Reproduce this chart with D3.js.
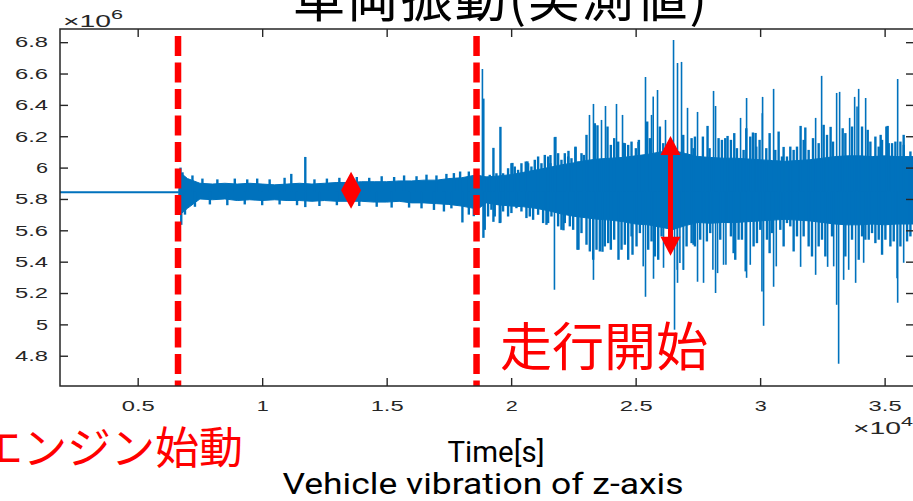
<!DOCTYPE html>
<html>
<head>
<meta charset="utf-8">
<script src="https://cdn.jsdelivr.net/npm/d3@7"></script>
<style>
  body { margin: 0; background: #fff; overflow: hidden; }
</style>
</head>
<body>
<div id="chart"></div>
<script>
// ---- data (time in s, acceleration in 10^6 units) ----
const preT = [1880, 3000, 4000, 5000, 6000, 6650];
const preV = [5.842, 5.842, 5.843, 5.843, 5.842, 5.842];

// dense part of the signal (upper / lower edge)
const coreT = [6650, 6700, 7000, 7500, 8000, 8500, 9000, 9500, 10000, 10500, 11000, 11500, 12000, 12500,
  13000, 13500, 14000, 14500, 15000, 15500, 16000, 16500, 17000, 17500, 18000, 18500, 18700, 19000,
  19500, 20000, 20500, 21000, 21500, 22000, 22500, 23000, 23500, 24000, 24500, 25000, 25500, 26000,
  26500, 27000, 27500, 28000, 28500, 29000, 29500, 30000, 30500, 31000, 31500, 32000, 32500, 33000,
  33500, 34000, 34500, 35000, 35500, 36000, 36200];
const coreHi = [5.85, 5.97, 5.93, 5.90, 5.895, 5.90, 5.895, 5.90, 5.895, 5.89, 5.895, 5.90, 5.895, 5.90,
  5.905, 5.905, 5.91, 5.91, 5.91, 5.915, 5.915, 5.92, 5.92, 5.93, 5.935, 5.95, 5.95, 5.94,
  5.947, 5.955, 5.97, 5.985, 6.00, 6.017, 6.03, 6.045, 6.055, 6.06, 6.065, 6.075, 6.085, 6.10,
  6.11, 6.09, 6.07, 6.065, 6.06, 6.06, 6.055, 6.05, 6.045, 6.04, 6.045, 6.05, 6.06, 6.07,
  6.075, 6.075, 6.07, 6.075, 6.07, 6.07, 6.07];
const coreLo = [5.835, 5.70, 5.74, 5.80, 5.795, 5.80, 5.79, 5.795, 5.79, 5.795, 5.79, 5.79, 5.785, 5.79,
  5.785, 5.785, 5.785, 5.78, 5.78, 5.785, 5.775, 5.775, 5.77, 5.765, 5.755, 5.74, 5.74, 5.775,
  5.762, 5.755, 5.75, 5.74, 5.725, 5.705, 5.69, 5.68, 5.67, 5.665, 5.655, 5.64, 5.635, 5.62,
  5.605, 5.63, 5.65, 5.645, 5.65, 5.65, 5.655, 5.66, 5.665, 5.67, 5.665, 5.66, 5.65, 5.64,
  5.635, 5.635, 5.64, 5.635, 5.64, 5.64, 5.64];

// single excursions above the dense part
const spikeUpT = [
  6720, 6800, 7200, 7600, 8200, 8900, 9400, 9800, 10300, 10900, 11169, 11732, 12100, 12600, 13100,
  13800, 14300, 14800, 15300, 15700, 16200, 16600, 17000, 17400, 17700, 17950, 18300,
  18846, 18900, 19288, 19569, 20051, 20654, 21578, 21779, 22302, 22583, 23146, 23306, 23467, 23789,
  24231, 24512, 25115, 25396, 25638, 25879, 26200, 26522, 26682, 26843, 27084, 27486, 27888, 28129,
  28210, 28692, 29214, 29456, 29817, 30099, 30541, 30943, 31626, 32229, 32470, 32831, 33073, 33193,
  33595, 33796, 33957, 34238, 34841, 35122, 35524, 35765,
  19006, 19140, 19408, 19676, 19877, 20011, 20145, 20279, 20413, 20587, 20681, 20815, 20949, 21083,
  21217, 21351, 21485, 21579, 21753, 21887, 22021, 22155, 22289, 22423, 22584, 22691, 22825, 22919,
  23026, 23361, 23629, 23870, 24004, 24138, 24299, 24473, 24567, 24701, 24835, 25009, 25130, 25264,
  25465, 25572, 25706, 25974, 26108, 26912, 27247, 27381,
  27326, 27594, 27701, 27969, 28331, 28465, 28599, 28827, 28961, 29068, 29336, 29443, 29604, 29711,
  29845, 29979, 30086, 30247, 30381, 30609, 30743, 30877, 31078, 31212, 31346, 31480, 31748, 31815,
  31949, 32123, 32351, 32552, 32686, 32927, 33316, 33423, 33691, 33892, 34093, 34321, 34428, 34629,
  34763, 34897, 35071, 35165, 35299, 35433, 35634, 35768, 35902, 36036];
const spikeUpV = [
  6.00, 5.97, 5.95, 5.93, 5.925, 5.93, 5.925, 5.93, 5.925, 5.935, 5.96, 6.068, 5.925, 5.93, 5.935,
  5.94, 5.935, 5.945, 5.94, 5.95, 5.945, 5.955, 5.95, 5.96, 5.965, 5.975, 5.975,
  6.629, 6.44, 6.126, 6.26, 6.03, 6.04, 6.08, 6.196, 6.107, 6.13, 6.336, 6.406, 6.27, 6.393,
  6.406, 6.158, 6.164, 6.578, 6.336, 6.495, 6.304, 6.814, 6.667, 6.674, 6.381, 6.355, 6.266, 6.489,
  6.393, 6.202, 6.317, 6.444, 6.221, 6.451, 6.502, 6.132, 6.266, 6.317, 6.585, 6.26, 6.476, 6.483,
  6.317, 6.451, 6.502, 6.444, 6.209, 6.266, 6.565, 6.209,
  5.943, 5.954, 5.964, 5.964, 5.996, 6.028, 6.007, 5.986, 6.028, 6.039, 6.028, 6.007, 6.05, 6.071,
  6.028, 6.081, 6.071, 6.028, 6.194, 6.092, 6.05, 6.092, 6.071, 6.06, 6.134, 6.039, 6.092, 6.081,
  6.209, 6.283, 6.304, 6.262, 6.145, 6.188, 6.166, 6.336, 6.156, 6.145, 6.166, 6.124, 6.177, 6.05,
  6.294, 6.188, 6.453, 6.262, 6.156, 6.209, 6.188, 6.198,
  6.124, 6.071, 6.198, 6.124, 6.188, 6.177, 6.188, 6.177, 6.22, 6.124, 6.113, 6.251, 6.198, 6.224,
  6.134, 6.177, 6.347, 6.124, 6.22, 6.113, 6.23, 6.071, 6.071, 6.134, 6.113, 6.134, 6.177, 6.256,
  6.113, 6.188, 6.156, 6.273, 6.209, 6.166, 6.251, 6.22, 6.262, 6.39, 6.262, 6.241, 6.166, 6.198,
  6.134, 6.177, 6.262, 6.156, 6.156, 6.166, 6.166, 6.145, 6.071, 6.103];

// single excursions below the dense part
const spikeDownT = [
  6750, 6900, 7300, 7900, 8600, 9300, 10000, 10700, 11400, 11732, 12300, 13000, 13900, 14600, 15200,
  15900, 16400, 16900, 17300, 17600, 18042, 18300, 18500,
  18886, 19288, 19569, 21739, 22101, 22704, 23306, 23668, 24311, 24874, 25396, 25718,
  26120, 26562, 26682, 26924, 27486, 27727, 28210, 28531, 29456, 30139, 30541, 31626, 32229, 32711,
  33073, 33153, 33354, 33836, 34158, 35524, 35765,
  18939, 19073, 19207, 19341, 19542, 19676, 19877, 20011, 20212, 20413, 20614, 20748, 20882, 21083,
  21284, 21418, 21485, 21619, 21887, 22021, 22155, 22356, 22490, 22664, 22825, 23026, 23160, 23294,
  23428, 23562, 23763, 23897, 24004, 24138, 24433, 24567, 24701, 24835, 25036, 25170, 25304, 25505,
  25639, 25773, 25907, 26041, 26671, 26778, 26912, 27046, 27247, 27381,
  27326, 27594, 27862, 27996, 28103, 28291, 28398, 28626, 28733, 28827, 28934, 29001, 29135, 29269,
  29403, 29604, 29738, 29872, 30006, 30073, 30274, 30381, 30475, 30649, 30810, 30944, 31078, 31212,
  31346, 31480, 31748, 31949, 32083, 32351, 32485, 32619, 32887, 32954, 33423, 33557, 33691, 33959,
  34093, 34227, 34361, 34495, 34629, 34763, 34897, 35031, 35232, 35366, 35500, 35634, 35902, 36036];
const spikeDownV = [
  5.635, 5.70, 5.75, 5.765, 5.76, 5.765, 5.76, 5.765, 5.76, 5.748, 5.755, 5.76, 5.755, 5.75, 5.745,
  5.745, 5.74, 5.73, 5.72, 5.74, 5.65, 5.70, 5.69,
  5.552, 5.654, 5.648, 5.221, 5.60, 5.476, 5.284, 5.463, 5.412, 5.444, 5.176, 5.291,
  5.361, 4.966, 5.265, 5.348, 5.272, 5.265, 5.20, 5.38, 5.297, 4.991, 5.24, 5.367, 5.316, 5.367,
  5.125, 4.749, 5.284, 5.265, 5.393, 5.138, 5.393,
  5.603, 5.688, 5.731, 5.688, 5.646, 5.72, 5.688, 5.71, 5.741, 5.72, 5.678, 5.688, 5.667, 5.699,
  5.646, 5.635, 5.646, 5.688, 5.625, 5.603, 5.646, 5.625, 5.603, 5.476, 5.582, 5.508, 5.465, 5.412,
  5.476, 5.465, 5.497, 5.518, 5.476, 5.54, 5.476, 5.508, 5.412, 5.561, 5.497, 5.582, 5.37, 5.476,
  5.529, 5.433, 5.412, 5.561, 5.348, 5.391, 5.348, 5.497, 5.518, 5.497,
  5.508, 5.54, 5.529, 5.582, 5.348, 5.327, 5.54, 5.38, 5.646, 5.561, 5.454, 5.412, 5.54, 5.54,
  5.338, 5.38, 5.497, 5.518, 5.603, 5.21, 5.54, 5.454, 5.582, 5.37, 5.603, 5.497, 5.646, 5.625,
  5.465, 5.561, 5.561, 5.497, 5.433, 5.497, 5.54, 5.433, 5.561, 5.37, 5.433, 5.348, 5.54, 5.412,
  5.561, 5.54, 5.54, 5.582, 5.518, 5.54, 5.444, 5.54, 5.497, 5.529, 5.295, 5.497, 5.529, 5.561];
const spikeBase = 5.85;

// events (engine start, driving start)
const eventT = [6620, 18610];
const eventLabels = ["エンジン始動", "走行開始"];
const eventTop = 6.84;

// amplitude arrows
const ampT = [13570, 26400];
const ampHi = [5.973, 6.202];
const ampLo = [5.737, 5.437];

const xTicks = [5000, 10000, 15000, 20000, 25000, 30000, 35000];
const yTicks = [4.8, 5.0, 5.2, 5.4, 5.6, 5.8, 6.0, 6.2, 6.4, 6.6, 6.8];

// ---- layout ----
const width = 913, height = 501;
const margin = { top: 29, left: 60, right: -1, bottom: 115 };
const iwidth = width - margin.left - margin.right;
const iheight = height - margin.top - margin.bottom;
const blue = "#0072BD", red = "#FF0000", axisCol = "#262626";

const svg = d3.select("#chart").append("svg")
  .attr("width", width).attr("height", height);

const x = d3.scaleLinear().domain([1880, 36180]).range([0, iwidth]);
const y = d3.scaleLinear().domain([4.607, 6.884]).range([iheight, 0]);

svg.append("defs").append("clipPath").attr("id", "plot")
  .append("rect").attr("width", iwidth).attr("height", iheight);

const g = svg.append("g").attr("transform", `translate(${margin.left},${margin.top})`);
const plot = g.append("g").attr("clip-path", "url(#plot)");

// signal
plot.append("path")
  .datum(preT.map((t, i) => [t, preV[i]]))
  .attr("fill", "none").attr("stroke", blue).attr("stroke-width", 2)
  .attr("d", d3.line().x(d => x(d[0])).y(d => y(d[1])));

plot.append("path")
  .datum(coreT.map((t, i) => ({ t, hi: coreHi[i], lo: coreLo[i] })))
  .attr("fill", blue).attr("stroke", blue).attr("stroke-width", 1)
  .attr("d", d3.area().x(d => x(d.t)).y0(d => y(d.lo)).y1(d => y(d.hi)));

const spikes = spikeUpT.map((t, i) => [t, spikeUpV[i]])
  .concat(spikeDownT.map((t, i) => [t, spikeDownV[i]]));
plot.selectAll("line.spike").data(spikes)
  .enter().append("line").attr("class", "spike")
  .attr("x1", d => x(d[0])).attr("x2", d => x(d[0]))
  .attr("y1", y(spikeBase)).attr("y2", d => y(d[1]))
  .attr("stroke", blue)
  .attr("stroke-width", d => Math.abs(d[1] - spikeBase) > 0.45 ? 1.6 : 2.4);

// event lines
g.selectAll("line.event").data(eventT).enter().append("line")
  .attr("class", "event")
  .attr("x1", d => x(d)).attr("x2", d => x(d))
  .attr("y1", y(eventTop)).attr("y2", iheight)
  .attr("stroke", red).attr("stroke-width", 6.5)
  .attr("stroke-dasharray", "20,6.5");

// double arrows
ampT.forEach((t, i) => {
  const cx = x(t), yt = y(ampHi[i]), yb = y(ampLo[i]);
  const head = Math.min(19, (yb - yt) / 2), hw = 10, sw = 2.5;
  const pts = [[cx, yt], [cx + hw, yt + head], [cx + sw, yt + head], [cx + sw, yb - head],
    [cx + hw, yb - head], [cx, yb], [cx - hw, yb - head], [cx - sw, yb - head],
    [cx - sw, yt + head], [cx - hw, yt + head]];
  g.append("polygon").attr("points", pts.map(p => p.join(",")).join(" ")).attr("fill", red);
});

// axes
const yAxis = d3.axisLeft(y).tickValues(yTicks).tickSizeInner(-8).tickSizeOuter(0).tickPadding(12)
  .tickFormat(d3.format("~g"));
const xAxis = d3.axisBottom(x).tickValues(xTicks).tickSizeInner(-8).tickSizeOuter(0).tickPadding(14)
  .tickFormat(d => d3.format("~g")(d / 1e4));

g.append("g").call(yAxis);
g.append("g").attr("transform", `translate(0,${iheight})`).call(xAxis);
g.append("g").attr("transform", `translate(${iwidth},0)`)
  .call(d3.axisRight(y).tickValues(yTicks).tickSizeInner(-8).tickSizeOuter(0).tickFormat(""));
g.append("g").call(d3.axisTop(x).tickValues(xTicks).tickSizeInner(-8).tickSizeOuter(0).tickFormat(""));

g.selectAll(".domain").remove();
g.selectAll(".tick line").attr("stroke", axisCol).attr("stroke-width", 1.4);
g.append("rect").attr("width", iwidth).attr("height", iheight)
  .attr("fill", "none").attr("stroke", axisCol).attr("stroke-width", 1.5);

const labelWidth = s => s.split("").reduce((a, c) => a + (c === "." ? 9 : 12), 0);
g.selectAll(".tick text")
  .attr("fill", axisCol)
  .attr("font-family", "'Liberation Sans', Arial, sans-serif")
  .attr("font-size", 15)
  .each(function () {
    const s = d3.select(this).text();
    if (s) d3.select(this).attr("textLength", labelWidth(s)).attr("lengthAdjust", "spacingAndGlyphs");
  });

// exponent labels
const expo = (gx0, gy0, p) => {
  const t = svg.append("text").attr("x", gx0).attr("y", gy0).attr("fill", axisCol)
    .attr("font-family", "'Liberation Sans', Arial, sans-serif").attr("font-size", 17)
    .attr("textLength", 60).attr("lengthAdjust", "spacingAndGlyphs");
  t.append("tspan").attr("font-size", 17).text("×10");
  t.append("tspan").attr("dy", -8).attr("font-size", 13).text(p);
};
expo(63, 27, "6");
expo(853, 434, "4");

// titles
svg.append("text").attr("x", 500).attr("y", 17).attr("text-anchor", "middle")
  .attr("font-family", "'Noto Sans CJK JP', sans-serif").attr("font-size", 52)
  .attr("textLength", 414).attr("lengthAdjust", "spacing")
  .text("車両振動(実測値)");

svg.append("text").attr("x", 496).attr("y", 462).attr("text-anchor", "middle")
  .attr("font-family", "Roboto, sans-serif").attr("font-size", 29)
  .attr("textLength", 97).attr("lengthAdjust", "spacingAndGlyphs")
  .text("Time[s]");
svg.append("text").attr("x", 483).attr("y", 494).attr("text-anchor", "middle")
  .attr("font-family", "Roboto, sans-serif").attr("font-size", 30)
  .attr("textLength", 401).attr("lengthAdjust", "spacingAndGlyphs")
  .text("Vehicle vibration of z-axis");

// event labels
svg.append("text").attr("x", 243).attr("y", 464).attr("text-anchor", "end").attr("fill", red)
  .attr("font-family", "'Noto Sans CJK JP', sans-serif").attr("font-size", 44)
  .text(eventLabels[0]);
svg.append("text").attr("x", 500).attr("y", 366).attr("fill", red)
  .attr("font-family", "'Noto Sans CJK JP', sans-serif").attr("font-size", 52)
  .text(eventLabels[1]);
</script>
</body>
</html>
